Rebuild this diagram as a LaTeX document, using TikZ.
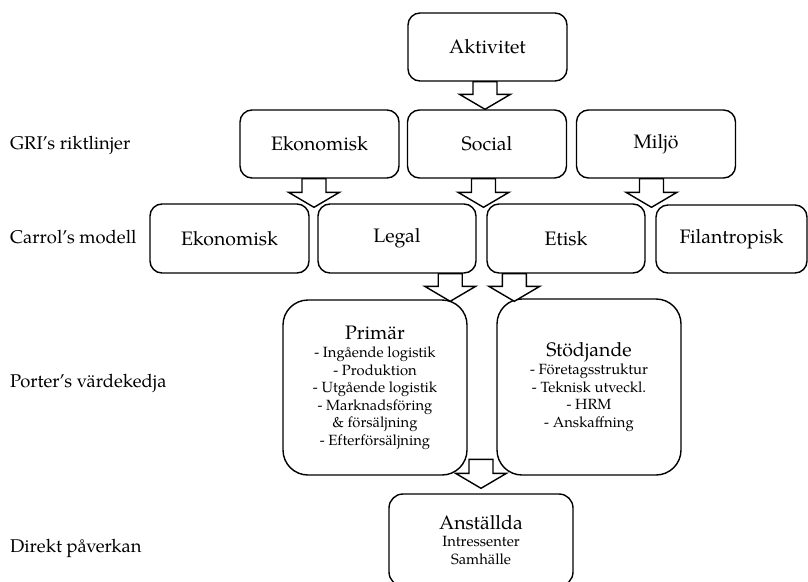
\documentclass[tikz,border=0pt]{standalone}
\usepackage{fontspec}
\setmainfont{TeX Gyre Pagella}
\usetikzlibrary{calc}
\tikzset{
  box/.style={draw, line width=1.4pt, rounded corners=12pt, minimum width=159pt,
    minimum height=68pt, inner sep=0pt, align=center, font=\fontsize{19.5}{23}\selectfont},
  bigbox/.style={draw, line width=1.4pt, rounded corners=25pt, minimum width=184pt,
    minimum height=175pt, inner sep=0pt, align=center, font=\fontsize{14.8}{17.5}\selectfont},
  lbl/.style={anchor=west, inner sep=0pt, font=\fontsize{18.4}{22}\selectfont},
  blk/.style={draw, fill=white, line width=1.4pt, line join=miter},
}
\newcommand\blockarr[2]{%
  \draw[blk] let \p1=(#1), \p2=(#2) in
    (\x1-12pt,\y1) -- (\x1+12pt,\y1) -- (\x1+12pt,\y2+15pt) -- (\x1+25.5pt,\y2+15pt)
    -- (\x1,\y2) -- (\x1-25.5pt,\y2+15pt) -- (\x1-12pt,\y2+15pt) -- cycle;}
\begin{document}
\begin{tikzpicture}[x=1pt,y=-1pt]
\useasboundingbox (0,0) rectangle (808,581);
% left labels
\node[lbl] (l1) at (10,145) {GRI’s riktlinjer};
\node[lbl] (l2) at (10,237) {Carrol’s modell};
\node[lbl] (l3) at (10,383) {Porter’s värdekedja};
\node[lbl] (l4) at (10,548) {Direkt påverkan};
% boxes
\node[box] (akt) at (487.5,47) {Aktivitet};
\node[box] (gE) at (319.5,144) {Ekonomisk};
\node[box] (gS) at (487,144) {Social};
\node[box] (gM) at (656,144) {Miljö};
\node[box, minimum height=69pt] (cE) at (229.5,238.5) {Ekonomisk};
\node[box, minimum height=69pt, minimum width=158pt] (cL) at (397,238.5) {Legal};
\node[box, minimum height=69pt, minimum width=158pt] (cEt) at (566,238.5) {Etisk};
\node[box, minimum height=68pt, minimum width=151pt] (cF) at (731.5,239) {Filantropisk};
\node[bigbox] (prim) at (375,387.5) {{\fontsize{19.5}{23}\selectfont Primär}\\[1pt]
  - Ingående logistik\\ - Produktion\\ - Utgående logistik\\ - Marknadsföring\\ \& försäljning\\ - Efterförsäljning};
\node[bigbox, minimum height=176pt] (stod) at (589,387) {{\fontsize{19.5}{23}\selectfont Stödjande}\\[1pt]
  - Företagsstruktur\\ - Teknisk utveckl.\\ - HRM\\ - Anskaffning};
\node[bigbox, rounded corners=14pt, minimum height=92pt] (anst) at (481,540) {{\fontsize{19.5}{23}\selectfont Anställda}\\
  Intressenter\\ Samhälle};
% block arrows
\blockarr{$(akt.south)+(-2.5,0)$}{gS.north}
\blockarr{$(gE.south)+(-5.5,0)$}{$(cE.north east)+(0,4)$}
\blockarr{$(gS.south)+(-3.5,0)$}{$(cL.north)+(0,4)$}
\blockarr{$(gM.south)+(-4.5,0)$}{$(cF.north)+(0,3)$}
\blockarr{$(cL.south east)+(-26.5,0)$}{$(prim.north)+(0,2)$}
\blockarr{$(cEt.south west)+(28,0)$}{$(stod.north)+(0,3)$}
\blockarr{$(anst.north)+(0,-34)$}{$(anst.north)+(0,-5)$}
\end{tikzpicture}
\end{document}
